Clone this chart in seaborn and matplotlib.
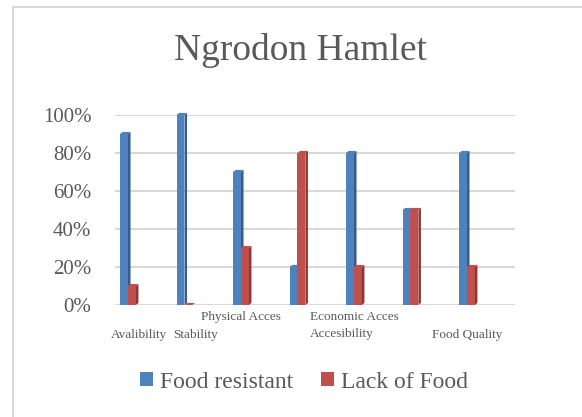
import matplotlib
matplotlib.use("Agg")
import matplotlib.pyplot as plt
import matplotlib.transforms as mtransforms
from matplotlib.patches import Patch
from matplotlib.lines import Line2D
from matplotlib.ticker import PercentFormatter, MultipleLocator
import seaborn as sns
import pandas as pd

# ---- data ----
categories = ["Avalibility", "Stability", "Physical Acces", "Group 4",
              "Economic Acces / Accesibility", "Group 6", "Food Quality"]
tick_labels = ["Avalibility", "Stability", "Physical Acces", "",
               "Economic Acces\nAccesibility", "", "Food Quality"]
lower_row = [0, 1, 6]
series = ["Food resistant", "Lack of Food"]
food_resistant = [0.90, 1.00, 0.70, 0.20, 0.80, 0.50, 0.80]
lack_of_food = [0.10, 0.00, 0.30, 0.80, 0.20, 0.50, 0.20]
title = "Ngrodon Hamlet"

BLUE = "#4F81BD"
RED = "#C0504D"
BLUE_DARK = "#385D8A"
RED_DARK = "#8C3836"
GREY = "#595959"
GRID = "#D9D9D9"

df = pd.DataFrame({
    "Category": categories * 2,
    "Series": [series[0]] * len(categories) + [series[1]] * len(categories),
    "Value": food_resistant + lack_of_food,
})

sns.set_theme(style="white")
plt.rcParams["font.family"] = ["Liberation Serif", "DejaVu Serif"]

fig = plt.figure(figsize=(5.82, 4.17), dpi=100)
ax = fig.add_axes([115 / 582, 1 - 305 / 417, 400 / 582, 190 / 417])

sns.barplot(data=df, x="Category", y="Value", hue="Series", order=categories,
            hue_order=series, palette=[BLUE, RED], width=0.28, saturation=1,
            dodge=True, legend=False, ax=ax, zorder=3, linewidth=0)

# pseudo-3D side and top faces derived from each bar's geometry
dx, dy = 0.045, 0.011
for p in list(ax.patches):
    x0, y0 = p.get_x(), p.get_y()
    w, h = p.get_width(), p.get_height()
    x1, y1 = x0 + w, y0 + h
    fc = p.get_facecolor()
    is_blue = fc[2] > fc[0]
    side = BLUE_DARK if is_blue else RED_DARK
    z = 2.9 if is_blue else 3.1
    for poly in ax.fill([x1, x1 + dx, x1 + dx, x1], [y0, y0 + dy, y1 + dy, y1],
                        color=side, lw=0, zorder=z):
        poly.set_clip_on(False)
    for poly in ax.fill([x0, x0 + dx, x1 + dx, x1], [y1, y1 + dy, y1 + dy, y1],
                        color=BLUE if is_blue else RED, lw=0, zorder=z):
        poly.set_clip_on(False)

ax.set_xlim(-0.23, 6.85)
ax.set_ylim(0, 1.0)
ax.yaxis.set_major_locator(MultipleLocator(0.2))
ax.yaxis.set_major_formatter(PercentFormatter(1.0, decimals=0))
ax.yaxis.grid(True, color=GRID, lw=1.5, zorder=0)
ax.xaxis.grid(False)
for s in ax.spines.values():
    s.set_visible(False)
ax.set_xlabel("")
ax.set_ylabel("")
ax.tick_params(axis="y", length=0, pad=17, labelsize=15, labelcolor=GREY)
ax.tick_params(axis="x", length=0, pad=4, labelsize=9.5, labelcolor=GREY)
ax.set_xticks(range(len(categories)))
ax.set_xticklabels(tick_labels)
for i, lab in enumerate(ax.get_xticklabels()):
    lab.set_multialignment("left")
    lab.set_linespacing(1.55)
    xoff = 11 / 100 if i in (0, 1) else 0
    yoff = -18 / 100 if i in lower_row else 0
    if xoff or yoff:
        lab.set_transform(lab.get_transform() +
                          mtransforms.ScaledTranslation(xoff, yoff, fig.dpi_scale_trans))

fig.text(300 / 582, 1 - 50 / 417, title, ha="center", va="center",
         fontsize=27, color=GREY)

handles = [Patch(facecolor=BLUE, edgecolor="none"), Patch(facecolor=RED, edgecolor="none")]
leg = fig.legend(handles, series, loc="center", bbox_to_anchor=(304 / 582, 1 - 382 / 417),
                 ncol=2, frameon=False, fontsize=17, handlelength=0.55, handleheight=0.55,
                 handletextpad=0.3, columnspacing=1.15)
for t in leg.get_texts():
    t.set_color(GREY)

# chart-area border (top and left)
fig.add_artist(Line2D([13 / 582, 1.0], [1 - 7 / 417, 1 - 7 / 417],
                      transform=fig.transFigure, color=GRID, lw=1.5))
fig.add_artist(Line2D([13 / 582, 13 / 582], [1 - 7 / 417, 0.0],
                      transform=fig.transFigure, color=GRID, lw=1.5))

fig.savefig("out.png", dpi=100)
